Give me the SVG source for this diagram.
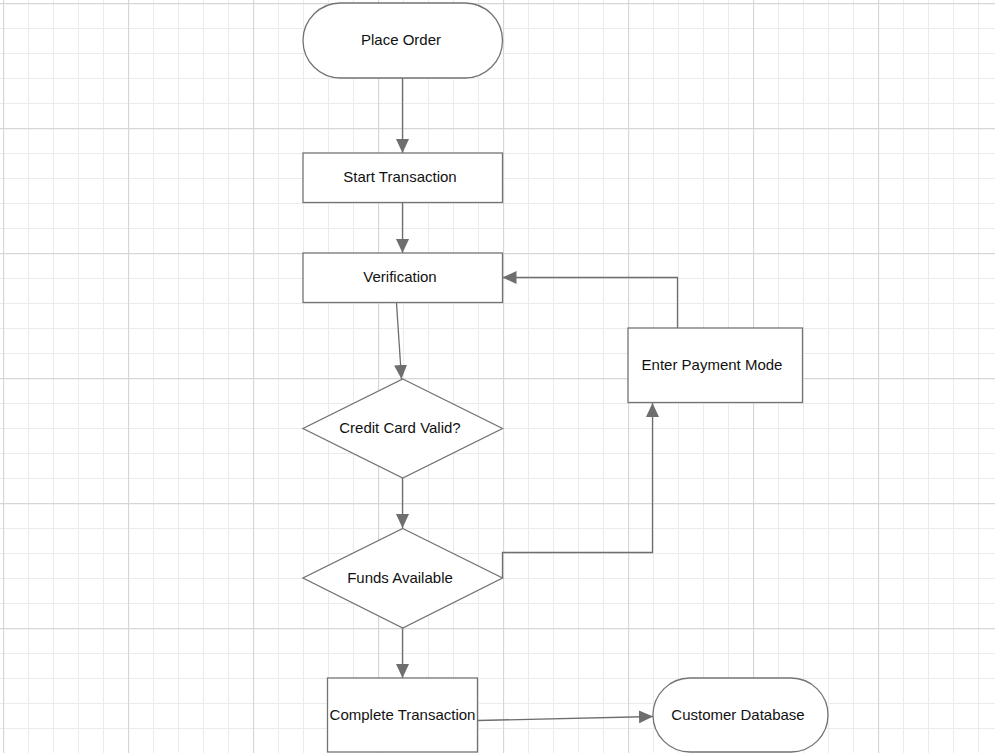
<svg xmlns="http://www.w3.org/2000/svg" width="995" height="753" viewBox="0 0 995 753">
<defs>
<pattern id="minor" x="3" y="3" width="25" height="25" patternUnits="userSpaceOnUse">
<path d="M0 0.5H25M0.5 0V25" fill="none" stroke="#ebebeb" stroke-width="1"/>
</pattern>
<pattern id="major" x="3" y="3" width="125" height="125" patternUnits="userSpaceOnUse">
<path d="M0 0.5H125M0.5 0V125" fill="none" stroke="#d6d6d6" stroke-width="1.3"/>
</pattern>
<marker id="arr" viewBox="0 0 14 13" refX="14" refY="6.5" markerWidth="14" markerHeight="13" markerUnits="userSpaceOnUse" orient="auto">
<path d="M0 0L14 6.5L0 13Z" fill="#6e6e6e"/>
</marker>
</defs>
<style>
.shape{fill:#ffffff;stroke:#737373;stroke-width:1.3}
.lbl{font-family:"Liberation Sans",Arial,sans-serif;font-size:15px;fill:#111111;text-anchor:middle;dominant-baseline:central}
.conn{fill:none;stroke:#6e6e6e;stroke-width:1.3;marker-end:url(#arr)}
</style>
<rect width="995" height="753" fill="#ffffff"/>
<rect width="995" height="753" fill="url(#minor)"/>
<rect width="995" height="753" fill="url(#major)"/>
<g id="connectors">
<path class="conn" d="M402.5 78V153"/>
<path class="conn" d="M402.5 203V253"/>
<path class="conn" d="M396.5 303L401.5 379"/>
<path class="conn" d="M402.5 478V528"/>
<path class="conn" d="M402.5 628V678"/>
<path class="conn" d="M502.5 578V552.5H652.5V403"/>
<path class="conn" d="M677.5 328V277.5H502.5"/>
<path class="conn" d="M477.5 720.5L653 716.5"/>
</g>
<g id="place-order">
<rect class="shape" x="303" y="3" width="199.5" height="75" rx="37.5" ry="37.5"/>
<text class="lbl" x="401" y="39.3">Place Order</text>
</g>
<g id="start-transaction">
<rect class="shape" x="303" y="153" width="199.5" height="49.5"/>
<text class="lbl" x="400" y="176.3">Start Transaction</text>
</g>
<g id="verification">
<rect class="shape" x="303" y="253" width="199.5" height="49.5"/>
<text class="lbl" x="400" y="276.3">Verification</text>
</g>
<g id="credit-card-valid">
<path class="shape" d="M402.75 379L502.5 428.5L402.75 478L303 428.5Z"/>
<text class="lbl" x="400" y="427.3">Credit Card Valid?</text>
</g>
<g id="funds-available">
<path class="shape" d="M402.75 528.5L502.5 578L402.75 628L303 578Z"/>
<text class="lbl" x="400" y="577.3">Funds Available</text>
</g>
<g id="enter-payment-mode">
<rect class="shape" x="628" y="328" width="174.5" height="74.5"/>
<text class="lbl" x="712" y="364.3">Enter Payment Mode</text>
</g>
<g id="complete-transaction">
<rect class="shape" x="327.5" y="678" width="150" height="74"/>
<text class="lbl" x="402.5" y="714.3">Complete Transaction</text>
</g>
<g id="customer-database">
<rect class="shape" x="653" y="678" width="175" height="74" rx="37" ry="37"/>
<text class="lbl" x="738" y="714.3">Customer Database</text>
</g>
</svg>
